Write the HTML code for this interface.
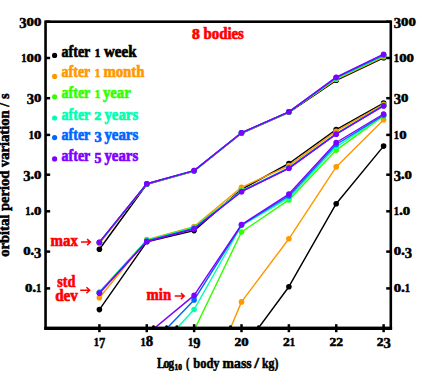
<!DOCTYPE html>
<html><head><meta charset="utf-8"><title>8 bodies</title>
<style>
html,body{margin:0;padding:0;background:#fff;}
svg{display:block;}
text{font-family:"Liberation Serif",serif;font-weight:bold;white-space:pre;}
.n{fill:#000;stroke:#000;stroke-width:0.5px;}
.l{font-size:15.5px;stroke-width:0.3px;}
.a{font-size:15px;fill:#000;stroke-width:0.55px;}
</style></head><body>
<svg width="436" height="371" viewBox="0 0 436 371">
<rect width="436" height="371" fill="#fff"/>
<defs><clipPath id="cp"><rect x="45.55" y="21.70" width="345.25" height="306.40"/></clipPath></defs>
<g clip-path="url(#cp)">
<polyline fill="none" stroke="#000000" stroke-width="1.45" stroke-linejoin="round" points="99.4,249.3 146.8,184.3 194.1,171.0 241.5,133.3 288.9,112.3 336.2,80.3 383.6,57.8"/><circle cx="99.4" cy="249.3" r="2.80" fill="#000000"/><circle cx="146.8" cy="184.3" r="2.80" fill="#000000"/><circle cx="194.1" cy="171.0" r="2.80" fill="#000000"/><circle cx="241.5" cy="133.3" r="2.80" fill="#000000"/><circle cx="288.9" cy="112.3" r="2.80" fill="#000000"/><circle cx="336.2" cy="80.3" r="2.80" fill="#000000"/><circle cx="383.6" cy="57.8" r="2.80" fill="#000000"/>
<polyline fill="none" stroke="#000000" stroke-width="1.45" stroke-linejoin="round" points="99.4,309.6 146.8,241.8 194.1,230.6 241.5,189.4 288.9,163.5 336.2,129.6 383.6,103.1"/><circle cx="99.4" cy="309.6" r="2.80" fill="#000000"/><circle cx="146.8" cy="241.8" r="2.80" fill="#000000"/><circle cx="194.1" cy="230.6" r="2.80" fill="#000000"/><circle cx="241.5" cy="189.4" r="2.80" fill="#000000"/><circle cx="288.9" cy="163.5" r="2.80" fill="#000000"/><circle cx="336.2" cy="129.6" r="2.80" fill="#000000"/><circle cx="383.6" cy="103.1" r="2.80" fill="#000000"/>
<polyline fill="none" stroke="#000000" stroke-width="1.45" stroke-linejoin="round" points="241.5,351.0 288.9,286.7 336.2,203.7 383.6,146.1"/><circle cx="288.9" cy="286.7" r="2.80" fill="#000000"/><circle cx="336.2" cy="203.7" r="2.80" fill="#000000"/><circle cx="383.6" cy="146.1" r="2.80" fill="#000000"/>
<polyline fill="none" stroke="#ff9900" stroke-width="1.45" stroke-linejoin="round" points="99.4,243.5 146.8,184.0 194.1,170.8 241.5,133.0 288.9,112.0 336.2,79.3 383.6,56.8"/><circle cx="99.4" cy="243.5" r="2.80" fill="#ff9900"/><circle cx="146.8" cy="184.0" r="2.80" fill="#ff9900"/><circle cx="194.1" cy="170.8" r="2.80" fill="#ff9900"/><circle cx="241.5" cy="133.0" r="2.80" fill="#ff9900"/><circle cx="288.9" cy="112.0" r="2.80" fill="#ff9900"/><circle cx="336.2" cy="79.3" r="2.80" fill="#ff9900"/><circle cx="383.6" cy="56.8" r="2.80" fill="#ff9900"/>
<polyline fill="none" stroke="#ff9900" stroke-width="1.45" stroke-linejoin="round" points="99.4,297.8 146.8,239.6 194.1,226.6 241.5,187.3 288.9,165.6 336.2,131.2 383.6,104.4"/><circle cx="99.4" cy="297.8" r="2.80" fill="#ff9900"/><circle cx="146.8" cy="239.6" r="2.80" fill="#ff9900"/><circle cx="194.1" cy="226.6" r="2.80" fill="#ff9900"/><circle cx="241.5" cy="187.3" r="2.80" fill="#ff9900"/><circle cx="288.9" cy="165.6" r="2.80" fill="#ff9900"/><circle cx="336.2" cy="131.2" r="2.80" fill="#ff9900"/><circle cx="383.6" cy="104.4" r="2.80" fill="#ff9900"/>
<polyline fill="none" stroke="#ff9900" stroke-width="1.45" stroke-linejoin="round" points="194.1,415.0 241.5,301.9 288.9,238.8 336.2,166.9 383.6,119.8"/><circle cx="241.5" cy="301.9" r="2.80" fill="#ff9900"/><circle cx="288.9" cy="238.8" r="2.80" fill="#ff9900"/><circle cx="336.2" cy="166.9" r="2.80" fill="#ff9900"/><circle cx="383.6" cy="119.8" r="2.80" fill="#ff9900"/>
<polyline fill="none" stroke="#33ff00" stroke-width="1.45" stroke-linejoin="round" points="99.4,242.8 146.8,183.9 194.1,170.7 241.5,132.9 288.9,111.9 336.2,78.6 383.6,56.0"/><circle cx="99.4" cy="242.8" r="2.80" fill="#33ff00"/><circle cx="146.8" cy="183.9" r="2.80" fill="#33ff00"/><circle cx="194.1" cy="170.7" r="2.80" fill="#33ff00"/><circle cx="241.5" cy="132.9" r="2.80" fill="#33ff00"/><circle cx="288.9" cy="111.9" r="2.80" fill="#33ff00"/><circle cx="336.2" cy="78.6" r="2.80" fill="#33ff00"/><circle cx="383.6" cy="56.0" r="2.80" fill="#33ff00"/>
<polyline fill="none" stroke="#33ff00" stroke-width="1.45" stroke-linejoin="round" points="99.4,292.0 146.8,240.2 194.1,227.2 241.5,190.8 288.9,167.7 336.2,133.6 383.6,105.4"/><circle cx="99.4" cy="292.0" r="2.80" fill="#33ff00"/><circle cx="146.8" cy="240.2" r="2.80" fill="#33ff00"/><circle cx="194.1" cy="227.2" r="2.80" fill="#33ff00"/><circle cx="241.5" cy="190.8" r="2.80" fill="#33ff00"/><circle cx="288.9" cy="167.7" r="2.80" fill="#33ff00"/><circle cx="336.2" cy="133.6" r="2.80" fill="#33ff00"/><circle cx="383.6" cy="105.4" r="2.80" fill="#33ff00"/>
<polyline fill="none" stroke="#33ff00" stroke-width="1.45" stroke-linejoin="round" points="194.1,330.3 241.5,232.0 288.9,199.9 336.2,150.1 383.6,115.8"/><circle cx="241.5" cy="232.0" r="2.80" fill="#33ff00"/><circle cx="288.9" cy="199.9" r="2.80" fill="#33ff00"/><circle cx="336.2" cy="150.1" r="2.80" fill="#33ff00"/><circle cx="383.6" cy="115.8" r="2.80" fill="#33ff00"/>
<polyline fill="none" stroke="#00ffb2" stroke-width="1.45" stroke-linejoin="round" points="99.4,242.6 146.8,183.9 194.1,170.7 241.5,132.8 288.9,111.8 336.2,78.1 383.6,55.5"/><circle cx="99.4" cy="242.6" r="2.80" fill="#00ffb2"/><circle cx="146.8" cy="183.9" r="2.80" fill="#00ffb2"/><circle cx="194.1" cy="170.7" r="2.80" fill="#00ffb2"/><circle cx="241.5" cy="132.8" r="2.80" fill="#00ffb2"/><circle cx="288.9" cy="111.8" r="2.80" fill="#00ffb2"/><circle cx="336.2" cy="78.1" r="2.80" fill="#00ffb2"/><circle cx="383.6" cy="55.5" r="2.80" fill="#00ffb2"/>
<polyline fill="none" stroke="#00ffb2" stroke-width="1.45" stroke-linejoin="round" points="99.4,292.2 146.8,240.6 194.1,227.8 241.5,191.2 288.9,167.9 336.2,133.8 383.6,105.5"/><circle cx="99.4" cy="292.2" r="2.80" fill="#00ffb2"/><circle cx="146.8" cy="240.6" r="2.80" fill="#00ffb2"/><circle cx="194.1" cy="227.8" r="2.80" fill="#00ffb2"/><circle cx="241.5" cy="191.2" r="2.80" fill="#00ffb2"/><circle cx="288.9" cy="167.9" r="2.80" fill="#00ffb2"/><circle cx="336.2" cy="133.8" r="2.80" fill="#00ffb2"/><circle cx="383.6" cy="105.5" r="2.80" fill="#00ffb2"/>
<polyline fill="none" stroke="#00ffb2" stroke-width="1.45" stroke-linejoin="round" points="146.8,361.0 194.1,309.5 241.5,225.5 288.9,197.9 336.2,146.8 383.6,115.5"/><circle cx="194.1" cy="309.5" r="2.80" fill="#00ffb2"/><circle cx="241.5" cy="225.5" r="2.80" fill="#00ffb2"/><circle cx="288.9" cy="197.9" r="2.80" fill="#00ffb2"/><circle cx="336.2" cy="146.8" r="2.80" fill="#00ffb2"/><circle cx="383.6" cy="115.5" r="2.80" fill="#00ffb2"/>
<polyline fill="none" stroke="#0066ff" stroke-width="1.45" stroke-linejoin="round" points="99.4,242.4 146.8,183.8 194.1,170.6 241.5,132.8 288.9,111.8 336.2,77.6 383.6,55.0"/><circle cx="99.4" cy="242.4" r="2.80" fill="#0066ff"/><circle cx="146.8" cy="183.8" r="2.80" fill="#0066ff"/><circle cx="194.1" cy="170.6" r="2.80" fill="#0066ff"/><circle cx="241.5" cy="132.8" r="2.80" fill="#0066ff"/><circle cx="288.9" cy="111.8" r="2.80" fill="#0066ff"/><circle cx="336.2" cy="77.6" r="2.80" fill="#0066ff"/><circle cx="383.6" cy="55.0" r="2.80" fill="#0066ff"/>
<polyline fill="none" stroke="#0066ff" stroke-width="1.45" stroke-linejoin="round" points="99.4,292.8 146.8,241.0 194.1,228.4 241.5,191.5 288.9,168.1 336.2,134.0 383.6,105.7"/><circle cx="99.4" cy="292.8" r="2.80" fill="#0066ff"/><circle cx="146.8" cy="241.0" r="2.80" fill="#0066ff"/><circle cx="194.1" cy="228.4" r="2.80" fill="#0066ff"/><circle cx="241.5" cy="191.5" r="2.80" fill="#0066ff"/><circle cx="288.9" cy="168.1" r="2.80" fill="#0066ff"/><circle cx="336.2" cy="134.0" r="2.80" fill="#0066ff"/><circle cx="383.6" cy="105.7" r="2.80" fill="#0066ff"/>
<polyline fill="none" stroke="#0066ff" stroke-width="1.45" stroke-linejoin="round" points="146.8,349.3 194.1,299.9 241.5,225.0 288.9,195.9 336.2,144.5 383.6,115.2"/><circle cx="194.1" cy="299.9" r="2.80" fill="#0066ff"/><circle cx="241.5" cy="225.0" r="2.80" fill="#0066ff"/><circle cx="288.9" cy="195.9" r="2.80" fill="#0066ff"/><circle cx="336.2" cy="144.5" r="2.80" fill="#0066ff"/><circle cx="383.6" cy="115.2" r="2.80" fill="#0066ff"/>
<polyline fill="none" stroke="#7f00ff" stroke-width="1.45" stroke-linejoin="round" points="99.4,242.2 146.8,183.8 194.1,170.6 241.5,132.7 288.9,111.8 336.2,77.2 383.6,54.2"/><circle cx="99.4" cy="242.2" r="2.80" fill="#7f00ff"/><circle cx="146.8" cy="183.8" r="2.80" fill="#7f00ff"/><circle cx="194.1" cy="170.6" r="2.80" fill="#7f00ff"/><circle cx="241.5" cy="132.7" r="2.80" fill="#7f00ff"/><circle cx="288.9" cy="111.8" r="2.80" fill="#7f00ff"/><circle cx="336.2" cy="77.2" r="2.80" fill="#7f00ff"/><circle cx="383.6" cy="54.2" r="2.80" fill="#7f00ff"/>
<polyline fill="none" stroke="#7f00ff" stroke-width="1.45" stroke-linejoin="round" points="99.4,293.2 146.8,241.5 194.1,229.0 241.5,191.7 288.9,168.3 336.2,134.2 383.6,105.9"/><circle cx="99.4" cy="293.2" r="2.80" fill="#7f00ff"/><circle cx="146.8" cy="241.5" r="2.80" fill="#7f00ff"/><circle cx="194.1" cy="229.0" r="2.80" fill="#7f00ff"/><circle cx="241.5" cy="191.7" r="2.80" fill="#7f00ff"/><circle cx="288.9" cy="168.3" r="2.80" fill="#7f00ff"/><circle cx="336.2" cy="134.2" r="2.80" fill="#7f00ff"/><circle cx="383.6" cy="105.9" r="2.80" fill="#7f00ff"/>
<polyline fill="none" stroke="#7f00ff" stroke-width="1.45" stroke-linejoin="round" points="146.8,334.5 194.1,295.4 241.5,224.6 288.9,194.1 336.2,142.5 383.6,114.0"/><circle cx="194.1" cy="295.4" r="2.80" fill="#7f00ff"/><circle cx="241.5" cy="224.6" r="2.80" fill="#7f00ff"/><circle cx="288.9" cy="194.1" r="2.80" fill="#7f00ff"/><circle cx="336.2" cy="142.5" r="2.80" fill="#7f00ff"/><circle cx="383.6" cy="114.0" r="2.80" fill="#7f00ff"/>
<circle cx="153.5" cy="326.6" r="1.4" fill="#000"/><circle cx="166.6" cy="326.6" r="1.4" fill="#000"/><circle cx="176.8" cy="326.6" r="1.4" fill="#000"/><circle cx="230.5" cy="326.6" r="1.4" fill="#000"/><circle cx="258.5" cy="326.6" r="1.4" fill="#000"/>
</g>
<line x1="44.25" y1="328.3" x2="392.10" y2="328.3" stroke="#000" stroke-width="3.3"/><rect x="45.55" y="21.70" width="345.25" height="306.40" fill="none" stroke="#000" stroke-width="2.6"/>
<line x1="45.55" y1="21.70" x2="50.15" y2="21.70" stroke="#000" stroke-width="2.5"/><line x1="390.80" y1="21.70" x2="386.20" y2="21.70" stroke="#000" stroke-width="2.5"/><line x1="45.55" y1="58.00" x2="50.15" y2="58.00" stroke="#000" stroke-width="2.5"/><line x1="390.80" y1="58.00" x2="386.20" y2="58.00" stroke="#000" stroke-width="2.5"/><line x1="45.55" y1="98.20" x2="50.15" y2="98.20" stroke="#000" stroke-width="2.5"/><line x1="390.80" y1="98.20" x2="386.20" y2="98.20" stroke="#000" stroke-width="2.5"/><line x1="45.55" y1="134.90" x2="50.15" y2="134.90" stroke="#000" stroke-width="2.5"/><line x1="390.80" y1="134.90" x2="386.20" y2="134.90" stroke="#000" stroke-width="2.5"/><line x1="45.55" y1="174.70" x2="50.15" y2="174.70" stroke="#000" stroke-width="2.5"/><line x1="390.80" y1="174.70" x2="386.20" y2="174.70" stroke="#000" stroke-width="2.5"/><line x1="45.55" y1="211.30" x2="50.15" y2="211.30" stroke="#000" stroke-width="2.5"/><line x1="390.80" y1="211.30" x2="386.20" y2="211.30" stroke="#000" stroke-width="2.5"/><line x1="45.55" y1="251.60" x2="50.15" y2="251.60" stroke="#000" stroke-width="2.5"/><line x1="390.80" y1="251.60" x2="386.20" y2="251.60" stroke="#000" stroke-width="2.5"/><line x1="45.55" y1="288.40" x2="50.15" y2="288.40" stroke="#000" stroke-width="2.5"/><line x1="390.80" y1="288.40" x2="386.20" y2="288.40" stroke="#000" stroke-width="2.5"/><line x1="99.40" y1="332.20" x2="99.40" y2="324.20" stroke="#000" stroke-width="2.5"/><line x1="146.77" y1="332.20" x2="146.77" y2="324.20" stroke="#000" stroke-width="2.5"/><line x1="194.14" y1="332.20" x2="194.14" y2="324.20" stroke="#000" stroke-width="2.5"/><line x1="241.51" y1="332.20" x2="241.51" y2="324.20" stroke="#000" stroke-width="2.5"/><line x1="288.88" y1="332.20" x2="288.88" y2="324.20" stroke="#000" stroke-width="2.5"/><line x1="336.25" y1="332.20" x2="336.25" y2="324.20" stroke="#000" stroke-width="2.5"/><line x1="383.62" y1="332.20" x2="383.62" y2="324.20" stroke="#000" stroke-width="2.5"/>
<text transform="translate(22.95,27.60) scale(1.000,1)" text-anchor="middle" font-size="14.6" class="n">3</text><text transform="translate(30.30,25.50) scale(1.276,1)" text-anchor="middle" font-size="11.6" class="n">0</text><text transform="translate(37.70,25.50) scale(1.276,1)" text-anchor="middle" font-size="11.6" class="n">0</text><text transform="translate(397.45,27.60) scale(1.000,1)" text-anchor="middle" font-size="14.6" class="n">3</text><text transform="translate(404.80,25.50) scale(1.276,1)" text-anchor="middle" font-size="11.6" class="n">0</text><text transform="translate(412.20,25.50) scale(1.276,1)" text-anchor="middle" font-size="11.6" class="n">0</text><text transform="translate(23.90,61.80) scale(0.912,1)" text-anchor="middle" font-size="11.6" class="n">1</text><text transform="translate(30.30,61.80) scale(1.276,1)" text-anchor="middle" font-size="11.6" class="n">0</text><text transform="translate(37.70,61.80) scale(1.276,1)" text-anchor="middle" font-size="11.6" class="n">0</text><text transform="translate(396.50,61.80) scale(0.912,1)" text-anchor="middle" font-size="11.6" class="n">1</text><text transform="translate(402.90,61.80) scale(1.276,1)" text-anchor="middle" font-size="11.6" class="n">0</text><text transform="translate(410.30,61.80) scale(1.276,1)" text-anchor="middle" font-size="11.6" class="n">0</text><text transform="translate(30.35,104.10) scale(1.000,1)" text-anchor="middle" font-size="14.6" class="n">3</text><text transform="translate(37.70,102.00) scale(1.276,1)" text-anchor="middle" font-size="11.6" class="n">0</text><text transform="translate(397.45,104.10) scale(1.000,1)" text-anchor="middle" font-size="14.6" class="n">3</text><text transform="translate(404.80,102.00) scale(1.276,1)" text-anchor="middle" font-size="11.6" class="n">0</text><text transform="translate(31.30,138.70) scale(0.912,1)" text-anchor="middle" font-size="11.6" class="n">1</text><text transform="translate(37.70,138.70) scale(1.276,1)" text-anchor="middle" font-size="11.6" class="n">0</text><text transform="translate(396.50,138.70) scale(0.912,1)" text-anchor="middle" font-size="11.6" class="n">1</text><text transform="translate(402.90,138.70) scale(1.276,1)" text-anchor="middle" font-size="11.6" class="n">0</text><text transform="translate(26.85,180.60) scale(1.000,1)" text-anchor="middle" font-size="14.6" class="n">3</text><text transform="translate(32.25,178.50) scale(1.100,1)" text-anchor="middle" font-size="14.6" class="n">.</text><text transform="translate(37.70,178.50) scale(1.276,1)" text-anchor="middle" font-size="11.6" class="n">0</text><text transform="translate(397.45,180.60) scale(1.000,1)" text-anchor="middle" font-size="14.6" class="n">3</text><text transform="translate(402.85,178.50) scale(1.100,1)" text-anchor="middle" font-size="14.6" class="n">.</text><text transform="translate(408.30,178.50) scale(1.276,1)" text-anchor="middle" font-size="11.6" class="n">0</text><text transform="translate(27.80,215.10) scale(0.912,1)" text-anchor="middle" font-size="11.6" class="n">1</text><text transform="translate(32.25,215.10) scale(1.100,1)" text-anchor="middle" font-size="14.6" class="n">.</text><text transform="translate(37.70,215.10) scale(1.276,1)" text-anchor="middle" font-size="11.6" class="n">0</text><text transform="translate(396.50,215.10) scale(0.912,1)" text-anchor="middle" font-size="11.6" class="n">1</text><text transform="translate(400.95,215.10) scale(1.100,1)" text-anchor="middle" font-size="14.6" class="n">.</text><text transform="translate(406.40,215.10) scale(1.276,1)" text-anchor="middle" font-size="11.6" class="n">0</text><text transform="translate(26.90,255.40) scale(1.276,1)" text-anchor="middle" font-size="11.6" class="n">0</text><text transform="translate(32.35,255.40) scale(1.100,1)" text-anchor="middle" font-size="14.6" class="n">.</text><text transform="translate(37.75,257.50) scale(1.000,1)" text-anchor="middle" font-size="14.6" class="n">3</text><text transform="translate(397.50,255.40) scale(1.276,1)" text-anchor="middle" font-size="11.6" class="n">0</text><text transform="translate(402.95,255.40) scale(1.100,1)" text-anchor="middle" font-size="14.6" class="n">.</text><text transform="translate(408.35,257.50) scale(1.000,1)" text-anchor="middle" font-size="14.6" class="n">3</text><text transform="translate(28.80,292.20) scale(1.276,1)" text-anchor="middle" font-size="11.6" class="n">0</text><text transform="translate(34.25,292.20) scale(1.100,1)" text-anchor="middle" font-size="14.6" class="n">.</text><text transform="translate(38.70,292.20) scale(0.912,1)" text-anchor="middle" font-size="11.6" class="n">1</text><text transform="translate(397.50,292.20) scale(1.276,1)" text-anchor="middle" font-size="11.6" class="n">0</text><text transform="translate(402.95,292.20) scale(1.100,1)" text-anchor="middle" font-size="14.6" class="n">.</text><text transform="translate(407.40,292.20) scale(0.912,1)" text-anchor="middle" font-size="11.6" class="n">1</text><text transform="translate(96.35,346.00) scale(0.912,1)" text-anchor="middle" font-size="11.6" class="n">1</text><text transform="translate(102.20,348.30) scale(0.863,1)" text-anchor="middle" font-size="14.6" class="n">7</text><text transform="translate(143.17,346.00) scale(0.912,1)" text-anchor="middle" font-size="11.6" class="n">1</text><text transform="translate(149.57,346.00) scale(1.014,1)" text-anchor="middle" font-size="14.6" class="n">8</text><text transform="translate(190.64,346.00) scale(0.912,1)" text-anchor="middle" font-size="11.6" class="n">1</text><text transform="translate(196.94,348.10) scale(0.986,1)" text-anchor="middle" font-size="14.6" class="n">9</text><text transform="translate(237.91,346.00) scale(1.172,1)" text-anchor="middle" font-size="11.6" class="n">2</text><text transform="translate(245.01,346.00) scale(1.276,1)" text-anchor="middle" font-size="11.6" class="n">0</text><text transform="translate(286.28,346.00) scale(1.172,1)" text-anchor="middle" font-size="11.6" class="n">2</text><text transform="translate(292.38,346.00) scale(0.912,1)" text-anchor="middle" font-size="11.6" class="n">1</text><text transform="translate(332.95,346.00) scale(1.172,1)" text-anchor="middle" font-size="11.6" class="n">2</text><text transform="translate(339.75,346.00) scale(1.172,1)" text-anchor="middle" font-size="11.6" class="n">2</text><text transform="translate(380.07,346.00) scale(1.172,1)" text-anchor="middle" font-size="11.6" class="n">2</text><text transform="translate(387.12,348.10) scale(1.000,1)" text-anchor="middle" font-size="14.6" class="n">3</text>
<circle cx="54.6" cy="55.4" r="2.6" fill="#000000"/><text x="61.6" y="57.4" fill="#000000" stroke="#000000" stroke-width="0.70" font-size="17.0" textLength="28.7" lengthAdjust="spacingAndGlyphs">after</text><text transform="translate(97.60,57.40) scale(0.946,1)" text-anchor="middle" fill="#000000" stroke="#000000" stroke-width="0.7" font-size="11.8">1</text><text x="104.0" y="57.4" fill="#000000" stroke="#000000" stroke-width="0.70" font-size="17.0" textLength="32.5" lengthAdjust="spacingAndGlyphs">week</text><circle cx="54.6" cy="76.4" r="2.6" fill="#ff9900"/><text x="61.6" y="77.0" fill="#ff9900" stroke="#ff9900" stroke-width="0.70" font-size="17.0" textLength="28.7" lengthAdjust="spacingAndGlyphs">after</text><text transform="translate(97.60,77.00) scale(0.946,1)" text-anchor="middle" fill="#ff9900" stroke="#ff9900" stroke-width="0.7" font-size="11.8">1</text><text x="103.4" y="77.0" fill="#ff9900" stroke="#ff9900" stroke-width="0.70" font-size="17.0" textLength="41.1" lengthAdjust="spacingAndGlyphs">month</text><circle cx="54.6" cy="96.8" r="2.6" fill="#33ff00"/><text x="61.6" y="98.4" fill="#33ff00" stroke="#33ff00" stroke-width="0.70" font-size="17.0" textLength="28.7" lengthAdjust="spacingAndGlyphs">after</text><text transform="translate(97.60,98.40) scale(0.946,1)" text-anchor="middle" fill="#33ff00" stroke="#33ff00" stroke-width="0.7" font-size="11.8">1</text><text x="102.9" y="98.4" fill="#33ff00" stroke="#33ff00" stroke-width="0.70" font-size="17.0" textLength="27.9" lengthAdjust="spacingAndGlyphs">year</text><circle cx="54.6" cy="118.0" r="2.6" fill="#00ffb2"/><text x="61.6" y="119.9" fill="#00ffb2" stroke="#00ffb2" stroke-width="0.70" font-size="17.0" textLength="28.7" lengthAdjust="spacingAndGlyphs">after</text><text transform="translate(97.80,119.90) scale(1.183,1)" text-anchor="middle" fill="#00ffb2" stroke="#00ffb2" stroke-width="0.7" font-size="11.8">2</text><text x="104.4" y="119.9" fill="#00ffb2" stroke="#00ffb2" stroke-width="0.70" font-size="17.0" textLength="33.8" lengthAdjust="spacingAndGlyphs">years</text><circle cx="54.6" cy="137.6" r="2.6" fill="#0066ff"/><text x="61.6" y="139.9" fill="#0066ff" stroke="#0066ff" stroke-width="0.70" font-size="17.0" textLength="28.7" lengthAdjust="spacingAndGlyphs">after</text><text transform="translate(98.00,142.06) scale(0.958,1)" text-anchor="middle" fill="#0066ff" stroke="#0066ff" stroke-width="0.7" font-size="15.0">3</text><text x="104.4" y="139.9" fill="#0066ff" stroke="#0066ff" stroke-width="0.70" font-size="17.0" textLength="33.8" lengthAdjust="spacingAndGlyphs">years</text><circle cx="54.6" cy="158.9" r="2.6" fill="#7f00ff"/><text x="61.6" y="161.2" fill="#7f00ff" stroke="#7f00ff" stroke-width="0.70" font-size="17.0" textLength="28.7" lengthAdjust="spacingAndGlyphs">after</text><text transform="translate(98.00,163.36) scale(0.931,1)" text-anchor="middle" fill="#7f00ff" stroke="#7f00ff" stroke-width="0.7" font-size="15.0">5</text><text x="104.4" y="161.2" fill="#7f00ff" stroke="#7f00ff" stroke-width="0.70" font-size="17.0" textLength="33.8" lengthAdjust="spacingAndGlyphs">years</text>
<text transform="translate(195.90,39.10) scale(1.013,1)" text-anchor="middle" fill="#ff0000" stroke="#ff0000" stroke-width="0.7" font-size="15.4">8</text><text x="203.5" y="39.1" fill="#ff0000" stroke="#ff0000" stroke-width="0.70" font-size="17.0" textLength="40.4" lengthAdjust="spacingAndGlyphs">bodies</text><text x="50.6" y="246.0" fill="#ff0000" stroke="#ff0000" stroke-width="0.70" font-size="17.0" textLength="27.3" lengthAdjust="spacingAndGlyphs">max</text><path d="M81.0 242.1 H90.4 M87.1 239.1 L90.4 242.1 L87.1 245.1" fill="none" stroke="#ff0000" stroke-width="1.5" stroke-linejoin="miter"/><text x="57.2" y="286.9" fill="#ff0000" stroke="#ff0000" stroke-width="0.70" font-size="17.0" textLength="18.2" lengthAdjust="spacingAndGlyphs">std</text><text x="55.2" y="301.3" fill="#ff0000" stroke="#ff0000" stroke-width="0.70" font-size="17.0" textLength="22.7" lengthAdjust="spacingAndGlyphs">dev</text><path d="M80.2 290.2 H89.7 M86.4 287.2 L89.7 290.2 L86.4 293.2" fill="none" stroke="#ff0000" stroke-width="1.5" stroke-linejoin="miter"/><text x="146.6" y="299.9" fill="#ff0000" stroke="#ff0000" stroke-width="0.70" font-size="17.0" textLength="24.5" lengthAdjust="spacingAndGlyphs">min</text><path d="M174.7 296.1 H184.2 M180.9 293.1 L184.2 296.1 L180.9 299.1" fill="none" stroke="#ff0000" stroke-width="1.5" stroke-linejoin="miter"/><text transform="translate(9.1,256.8) rotate(-90)" class="a" stroke="#000" textLength="163.4" lengthAdjust="spacingAndGlyphs">orbital period variation / s</text><text x="157.0" y="367.5" fill="#000" stroke="#000" stroke-width="0.55" font-size="15.5" textLength="7.8" lengthAdjust="spacingAndGlyphs">L</text><text x="163.4" y="367.5" fill="#000" stroke="#000" stroke-width="0.55" font-size="15.5" textLength="5.9" lengthAdjust="spacingAndGlyphs">o</text><text x="168.6" y="367.5" fill="#000" stroke="#000" stroke-width="0.55" font-size="15.5" textLength="5.6" lengthAdjust="spacingAndGlyphs">g</text><text x="174.5" y="369.6" fill="#000" stroke="#000" stroke-width="0.60" font-size="7.6" textLength="7.4" lengthAdjust="spacingAndGlyphs">10</text><text x="185.9" y="367.5" fill="#000" stroke="#000" stroke-width="0.55" font-size="15.5" textLength="3.4" lengthAdjust="spacingAndGlyphs">(</text><text x="193.2" y="367.5" fill="#000" stroke="#000" stroke-width="0.55" font-size="15.5" textLength="26.4" lengthAdjust="spacingAndGlyphs">body</text><text x="222.6" y="367.5" fill="#000" stroke="#000" stroke-width="0.55" font-size="15.5" textLength="29.0" lengthAdjust="spacingAndGlyphs">mass</text><text x="254.2" y="367.5" fill="#000" stroke="#000" stroke-width="0.55" font-size="15.5" textLength="4.8" lengthAdjust="spacingAndGlyphs">/</text><text x="262.0" y="367.5" fill="#000" stroke="#000" stroke-width="0.55" font-size="15.5" textLength="16.4" lengthAdjust="spacingAndGlyphs">kg)</text>
</svg>
</body></html>
